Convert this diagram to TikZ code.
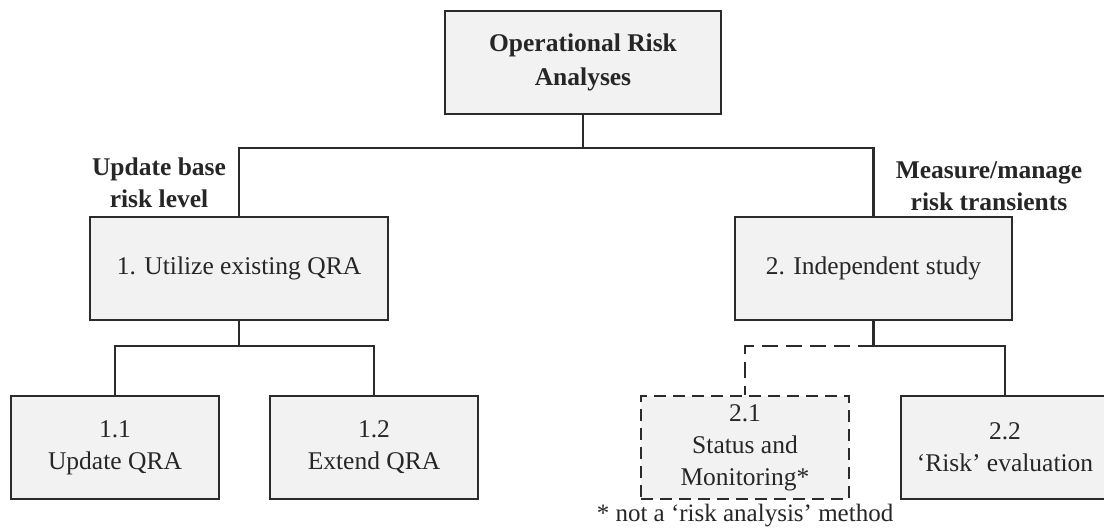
\documentclass[tikz,border=0pt]{standalone}
\usepackage{fontspec}
\setmainfont{Liberation Serif}
\begin{document}
\begin{tikzpicture}[x=1pt,y=-1pt,
  box/.style={draw=linec, line width=2pt, fill=boxfill, text=textc,
    inner sep=0pt, minimum height=103pt, align=center,
    font=\fontsize{25.5}{32}\selectfont},
  headbox/.style={box, font=\fontsize{25.5}{34}\selectfont\bfseries},
  dashbox/.style={box, dash pattern=on 12pt off 7pt},
  tag/.style={text=textc, align=center, inner sep=0pt,
    font=\fontsize{25.5}{32}\selectfont\bfseries},
  note/.style={text=textc, inner sep=0pt, font=\fontsize{25}{31}\selectfont},
  link/.style={draw=linec, line width=2.2pt},
  dashlink/.style={link, dash pattern=on 16pt off 8pt}]
\definecolor{linec}{HTML}{2B2B2B}
\definecolor{boxfill}{HTML}{F2F2F2}
\definecolor{textc}{HTML}{262626}

\useasboundingbox (0,0) rectangle (1104,530);

% root
\node[headbox, minimum width=276pt] (top) at (583,62) {Operational Risk\\Analyses};

% first level
\node[box, minimum width=298pt] (b1) at (239,268.5) {1. Utilize existing QRA};
\node[box, minimum width=277pt] (b2) at (873.5,268.5) {2. Independent study};

\node[tag] (t1) at (159,183) {Update base\\risk level};
\node[tag] (t2) at (989,186) {Measure/manage\\risk transients};

% second level
\node[box, minimum width=208pt] (c11) at (115,447.5) {1.1\\Update QRA};
\node[box, minimum width=208pt] (c12) at (374,447.5) {1.2\\Extend QRA};
\node[dashbox, minimum width=208pt] (c21) at (745,447.5) {2.1\\Status and\\Monitoring*};
\node[box, minimum width=208pt] (c22) at (1005,447.5) {2.2\\`Risk' evaluation};

\node[note] (fn) at (745,516) {* not a `risk analysis' method};

% junction points
\coordinate (j0) at (583,148);
\coordinate (j1) at (239,346);
\coordinate (j2) at (873.5,346);

% connectors
\draw[link] (top.south) -- (j0);
\draw[link] (b1.north) |- (j0) -| (b2.north);
\draw[link] (b1.south) -- (j1);
\draw[link] (c11.north) |- (j1) -| (c12.north);
\draw[link] (b2.south) -- (j2) -| (c22.north);
\draw[dashlink] (j2) -| (c21.north);
\end{tikzpicture}
\end{document}
